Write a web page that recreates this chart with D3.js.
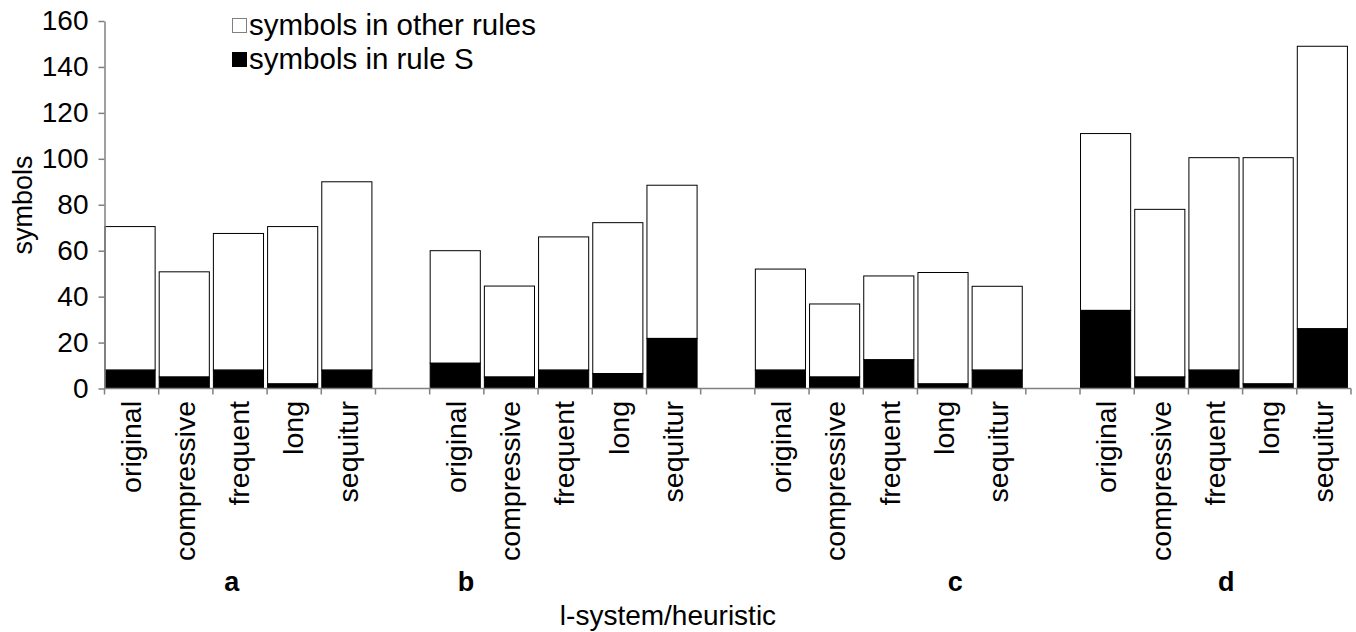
<!DOCTYPE html>
<html>
<head>
<meta charset="utf-8">
<script src="https://cdn.jsdelivr.net/npm/d3@7/dist/d3.min.js"></script>
<style>
  html, body { margin: 0; padding: 0; background: #fff; }
  svg { display: block; font-family: "Liberation Sans", Arial, sans-serif; }
</style>
</head>
<body>
<svg id="chart" width="1356" height="632"></svg>
<script>
// ---- data ----
const groups = ["a", "b", "c", "d"];
const heuristics = ["original", "compressive", "frequent", "long", "sequitur"];
// total symbols per bar (group-major order)
const totals = [
  70.5, 50.8, 67.5, 70.5, 90,
  60, 44.6, 66, 72.2, 88.5,
  52, 36.8, 49, 50.5, 44.5,
  111, 78, 100.5, 100.5, 149
];
// symbols in rule S per bar
const ruleS = [
  8, 5, 8, 2, 8,
  11, 5, 8, 6.5, 21.8,
  8, 5, 12.5, 2, 8,
  34, 5, 8, 2, 26
];
const yTicks = [0, 20, 40, 60, 80, 100, 120, 140, 160];
const legendLabels = ["symbols in other rules", "symbols in rule S"];

// ---- layout ----
const x0 = 104.5, x1 = 1351, yBottom = 388.5, yTop = 21;
const svg = d3.select("#chart");

// slots: 5 bars per group + an empty slot between groups
const slots = [];
groups.forEach((g, gi) => {
  heuristics.forEach((h, hi) => slots.push({id: g + "-" + h, group: g, name: h, idx: gi * 5 + hi}));
  if (gi < groups.length - 1) slots.push({id: "gap" + gi, gap: true});
});

const x = d3.scaleBand().domain(slots.map(d => d.id)).range([x0, x1]).paddingInner(0).paddingOuter(0);
const y = d3.scaleLinear().domain([0, 160]).range([yBottom, yTop]);

const bars = slots.filter(d => !d.gap).map(d => ({
  id: d.id, name: d.name, group: d.group,
  s: ruleS[d.idx], total: totals[d.idx]
}));

const bw = x.bandwidth() * 0.925;
const axisColor = "#808080";

// white part (other rules)
svg.append("g").selectAll("rect.other").data(bars).join("rect")
  .attr("x", d => x(d.id) + 0.5)
  .attr("y", d => y(d.total))
  .attr("width", bw)
  .attr("height", d => y(d.s) - y(d.total))
  .attr("fill", "#fff").attr("stroke", "#000").attr("stroke-width", 1);

// black part (rule S)
svg.append("g").selectAll("rect.s").data(bars).join("rect")
  .attr("x", d => x(d.id) + 0.5)
  .attr("y", d => y(d.s))
  .attr("width", bw)
  .attr("height", d => y(0) - y(d.s))
  .attr("fill", "#000").attr("stroke", "#000").attr("stroke-width", 1);

// y axis
const yAxis = svg.append("g").attr("transform", `translate(${x0},0)`)
  .call(d3.axisLeft(y).tickValues(yTicks).tickSize(6).tickSizeOuter(0).tickPadding(10));
yAxis.select(".domain").attr("stroke", axisColor).attr("stroke-width", 1.5);
yAxis.selectAll(".tick line").attr("stroke", axisColor).attr("stroke-width", 1.5);
yAxis.selectAll(".tick text").attr("font-size", 28).attr("fill", "#000")
  .attr("font-family", "'Liberation Sans', Arial, sans-serif");

// x axis line and ticks at slot boundaries
const xAxisG = svg.append("g");
xAxisG.append("line").attr("x1", x0).attr("x2", x1).attr("y1", yBottom).attr("y2", yBottom)
  .attr("stroke", axisColor).attr("stroke-width", 1.5);
const bounds = slots.map(d => x(d.id)).concat([x1]);
xAxisG.selectAll("line.tk").data(bounds).join("line")
  .attr("x1", d => d).attr("x2", d => d)
  .attr("y1", yBottom).attr("y2", yBottom + 6)
  .attr("stroke", axisColor).attr("stroke-width", 1.5);

// category labels (rotated)
svg.append("g").selectAll("text.cat").data(bars).join("text")
  .attr("transform", d => `translate(${x(d.id) + x.bandwidth() / 2 - 1},401) rotate(-90)`)
  .attr("text-anchor", "end").attr("dy", "0.36em")
  .attr("font-size", 28.5).attr("fill", "#000")
  .text(d => d.name);

// group labels
const groupLabelSlot = [2.35, 6.67, 15.7, 20.7];
svg.append("g").selectAll("text.grp").data(groups).join("text")
  .attr("x", (d, i) => x0 + groupLabelSlot[i] * x.step())
  .attr("y", 591)
  .attr("text-anchor", "middle").attr("font-size", 27).attr("font-weight", "bold")
  .text(d => d);

// axis titles
svg.append("text").attr("x", 668).attr("y", 625).attr("text-anchor", "middle")
  .attr("font-size", 28).text("l-system/heuristic");
svg.append("text").attr("transform", "translate(32,205) rotate(-90)")
  .attr("text-anchor", "middle").attr("font-size", 27).text("symbols");

// legend
const leg = svg.append("g").attr("transform", "translate(232,12)");
legendLabels.forEach((lab, i) => {
  const g = leg.append("g").attr("transform", `translate(0,${i * 34})`);
  g.append("rect").attr("x", 0.5).attr("y", 6.5).attr("width", 14).attr("height", 14)
    .attr("fill", i === 0 ? "#fff" : "#000").attr("stroke", i === 0 ? axisColor : "#000");
  g.append("text").attr("x", 17).attr("y", 23).attr("font-size", 29.5).text(lab);
});
</script>
</body>
</html>
